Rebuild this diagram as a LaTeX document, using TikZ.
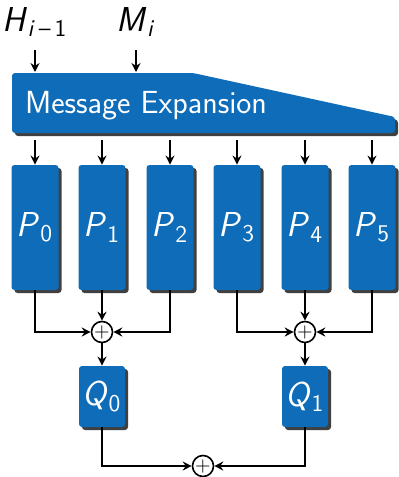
\documentclass[tikz,border=0pt]{standalone}
\renewcommand{\familydefault}{\sfdefault}
\usetikzlibrary{arrows.meta,shadows,calc}

\definecolor{boxblue}{RGB}{14,108,184}
\definecolor{shadowgray}{RGB}{64,64,64}

% sans italic letter with an upright subscript
\newcommand{\sv}[2]{\textit{#1}\textsubscript{#2}}

\tikzset{
  blk/.style={fill=boxblue,text=white,rounded corners=1.5pt,inner sep=0pt,
    drop shadow={shadow xshift=1.5pt,shadow yshift=-1.5pt,fill=shadowgray,opacity=1}},
  pbox/.style={blk,minimum width=23.5pt,minimum height=62.5pt,font=\LARGE},
  qbox/.style={blk,minimum width=23pt,minimum height=30.5pt,font=\LARGE},
  xorop/.style={circle,draw,line width=0.8pt,fill=white,minimum size=10.5pt,inner sep=0pt},
  arr/.style={-{Stealth[length=4.5pt,width=4.5pt,inset=1.5pt]},line width=0.8pt}
}

\begin{document}
\begin{tikzpicture}[x=0.5pt,y=-0.5pt]
\useasboundingbox (0,0) rectangle (398,477);

% inputs
\node[font=\LARGE] (hin) at (35,22) {\sv{H}{\textit{i}\,\textendash\,1}};
\node[font=\LARGE] (min) at (136,22) {\sv{M}{\textit{i}}};

% message expansion block
\fill[shadowgray,rounded corners=1.5pt] (15,76) -- (196,76) -- (398,120) -- (398,136) -- (15,136) -- cycle;
\fill[boxblue,rounded corners=1.5pt] (12,73) -- (193,73) -- (395,117) -- (395,133) -- (12,133) -- cycle;
\node[text=white,font=\fontsize{16}{19}\selectfont,anchor=west] (exp) at (18,106) {Message Expansion};

\coordinate (hin-a) at (35,50);
\coordinate (hin-b) at (35,72);
\coordinate (min-a) at (136,50);
\coordinate (min-b) at (136,72);
\draw[arr] (hin-a) -- (hin-b);
\draw[arr] (min-a) -- (min-b);

% permutations P_0 ... P_5
\foreach \i/\x in {0/35,1/102,2/170,3/237,4/305,5/372}{
  \node[pbox] (p\i) at (\x,227.5) {\sv{P}{\i}};
  \coordinate (e\i) at (\x,140);
  \draw[arr] (e\i) -- (p\i.north);
}

% xor of each half
\node[xorop] (x0) at (102,332) {$+$};
\node[xorop] (x1) at (305,332) {$+$};
\draw[arr] (p0.south) |- (x0.west);
\draw[arr] (p1.south) -- (x0.north);
\draw[arr] (p2.south) |- (x0.east);
\draw[arr] (p3.south) |- (x1.west);
\draw[arr] (p4.south) -- (x1.north);
\draw[arr] (p5.south) |- (x1.east);

\node[qbox] (q0) at (102,396.5) {\sv{Q}{0}};
\node[qbox] (q1) at (305,396.5) {\sv{Q}{1}};
\draw[arr] (x0.south) -- (q0.north);
\draw[arr] (x1.south) -- (q1.north);

% final xor
\node[xorop] (x2) at (203,466) {$+$};
\draw[arr] (q0.south) |- (x2.west);
\draw[arr] (q1.south) |- (x2.east);
\end{tikzpicture}
\end{document}
